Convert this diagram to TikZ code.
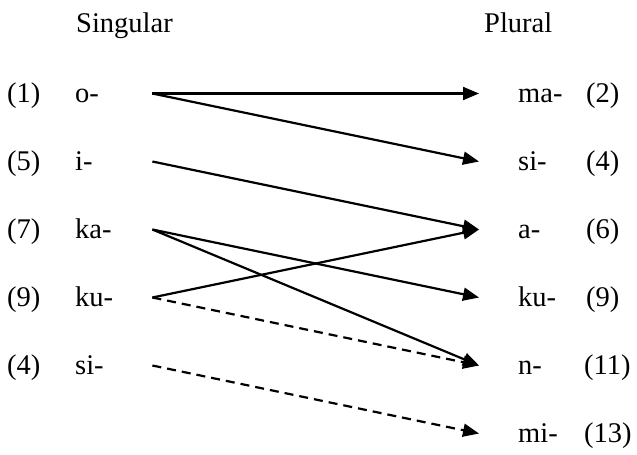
\documentclass[tikz,border=0pt]{standalone}
\usepackage{fontspec}
\setmainfont{Liberation Serif}
\usepackage{tikz}
\usetikzlibrary{arrows.meta}

\begin{document}
\begin{tikzpicture}[x=1pt, y=-1pt,
  every node/.style={font=\fontsize{28.5}{34}\selectfont, inner ysep=0pt, text height=17pt, text depth=0pt},
  lpfx/.style={anchor=base west, inner xsep=0pt, text width=77pt, align=left},
  rpfx/.style={anchor=base west, inner xsep=39pt},
  num/.style={anchor=base west, inner xsep=0pt},
  arr/.style={-{Triangle[length=16pt, width=13pt]}, line width=2.2pt},
  darr/.style={arr, dash pattern=on 9pt off 6pt}
]
\useasboundingbox (0,0) rectangle (637,455);
% headings
\node[num] (hsg) at (76,32) {Singular};
\node[num] (hpl) at (484,32) {Plural};
% singular prefixes
\node[num] (n1) at (7,102) {(1)};
\node[lpfx] (Lo) at (75,102) {o-};
\node[num] (n5) at (7,170) {(5)};
\node[lpfx] (Li) at (75,170) {i-};
\node[num] (n7) at (7,238) {(7)};
\node[lpfx] (Lka) at (75,238) {ka-};
\node[num] (n9) at (7,306) {(9)};
\node[lpfx] (Lku) at (75,306) {ku-};
\node[num] (n4) at (7,374) {(4)};
\node[lpfx] (Lsi) at (75,374) {si-};
% plural prefixes
\node[rpfx] (Rma) at (479,102) {ma-};
\node[num] (m2) at (586,102) {(2)};
\node[rpfx] (Rsi) at (479,170) {si-};
\node[num] (m4) at (586,170) {(4)};
\node[rpfx] (Ra) at (479,238) {a-};
\node[num] (m6) at (586,238) {(6)};
\node[rpfx] (Rku) at (479,306) {ku-};
\node[num] (m9) at (586,306) {(9)};
\node[rpfx] (Rn) at (479,374) {n-};
\node[num] (m11) at (584,374) {(11)};
\node[rpfx] (Rmi) at (479,442) {mi-};
\node[num] (m13) at (584,442) {(13)};
% arrows
\draw[arr] (Lo.east) -- (Rma.west);
\draw[arr] (Lo.east) -- (Rsi.west);
\draw[arr] (Li.east) -- (Ra.west);
\draw[arr] (Lka.east) -- (Rku.west);
\draw[arr] (Lka.east) -- (Rn.west);
\draw[arr] (Lku.east) -- (Ra.west);
\draw[darr] (Lku.east) -- (Rn.west);
\draw[darr] (Lsi.east) -- (Rmi.west);
\end{tikzpicture}
\end{document}
